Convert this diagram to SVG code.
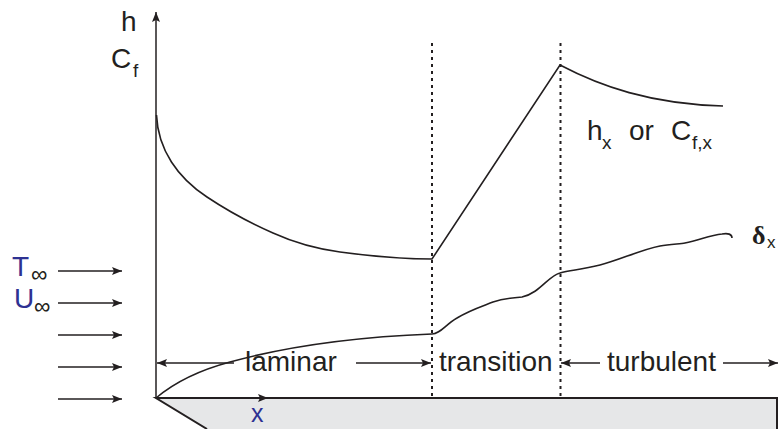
<svg xmlns="http://www.w3.org/2000/svg" width="781" height="429" viewBox="0 0 781 429">
<defs>
<marker id="ah" viewBox="0 0 10 8" refX="10" refY="4" markerWidth="10" markerHeight="8" markerUnits="userSpaceOnUse" orient="auto">
<path d="M0,0 L10,4 L0,8 L2,4 Z" fill="#231f20"/>
</marker>
<style>
.ln{fill:none;stroke:#231f20;stroke-width:1.6}
.dash{fill:none;stroke:#231f20;stroke-width:2;stroke-dasharray:3,4}
.ar{fill:none;stroke:#231f20;stroke-width:1.5;marker-end:url(#ah)}
.t{font-family:"Liberation Sans",Arial,sans-serif;font-size:28px;fill:#231f20}
.s{font-family:"Liberation Sans",Arial,sans-serif;font-size:19px;fill:#231f20}
.inf{font-family:"Liberation Sans",Arial,sans-serif;font-size:23px;fill:#231f20}
.b{fill:#2e3192}
</style>
</defs>
<rect width="781" height="429" fill="#ffffff"/>
<g id="plate">
<path d="M156,398 L777,398 L777,429 L207,429 Z" fill="#e6e7e8" stroke="none"/>
<path d="M207,429 L156,398 L777,398 L777,429" fill="none" stroke="#231f20" stroke-width="2"/>
</g>
<g id="connectors">
<line class="ar" x1="156" y1="398" x2="156" y2="12"/>
<line class="ar" x1="156" y1="398" x2="268" y2="398"/>
<line class="dash" x1="432" y1="43" x2="432" y2="396"/>
<line class="dash" x1="560.5" y1="43" x2="560.5" y2="396"/>
<line class="ar" x1="58" y1="271" x2="122" y2="271"/>
<line class="ar" x1="58" y1="303" x2="122" y2="303"/>
<line class="ar" x1="58" y1="335" x2="122" y2="335"/>
<line class="ar" x1="58" y1="367" x2="122" y2="367"/>
<line class="ar" x1="58" y1="399" x2="122" y2="399"/>
<line class="ar" x1="234" y1="363" x2="157" y2="363"/>
<line class="ar" x1="356" y1="363" x2="431" y2="363"/>
<line class="ar" x1="600" y1="363" x2="561" y2="363"/>
<line class="ar" x1="723" y1="363" x2="778" y2="363"/>
</g>
<g id="h-curve">
<path class="ln" d="M156.5,115 C158,150 178,178 207,197 C222,207 248,222 273,233 C295,243 318,249 340,252 C370,256 400,259 432,259 L560,65 C600,86 650,104 723,106"/>
</g>
<g id="delta-curve">
<path class="ln" d="M156,398 C175,382 200,370 230,362 C270,351 330,338 432,334 C440,334 445,325 457,318 C470,310 483,306 493,302 C505,298 512,298 522,297 C540,293 548,276 560,273 C570,270 580,270 600,265 C620,260 640,250 660,246 C670,244 680,244 685,243 C700,240 710,235 722,234 C728,233 732,234 732,238"/>
</g>
<g id="labels">
<text class="t" x="121" y="31">h</text>
<text class="t" x="111" y="68">C</text><text class="s" x="133" y="77">f</text>
<text class="t b" x="12" y="276">T</text><text class="inf" x="31" y="282">∞</text>
<text class="t b" x="14" y="308">U</text><text class="inf" x="34" y="314">∞</text>
<text class="t" x="587" y="140">h</text><text class="s" x="602" y="149">x</text>
<text class="t" x="629" y="140">or</text>
<text class="t" x="671" y="140">C</text><text class="s" x="692" y="149">f,x</text>
<text x="752" y="244" style="font-family:'Liberation Serif','Times New Roman',serif;font-size:26px;font-weight:bold;fill:#231f20">δ</text>
<text x="767" y="248" style="font-family:'Liberation Sans',Arial,sans-serif;font-size:17px;fill:#231f20">x</text>
<text class="t" x="245" y="371">laminar</text>
<text class="t" x="439" y="371">transition</text>
<text class="t" x="607" y="371">turbulent</text>
<text class="t b" x="251" y="422" style="font-size:25px">x</text>
</g>
</svg>
